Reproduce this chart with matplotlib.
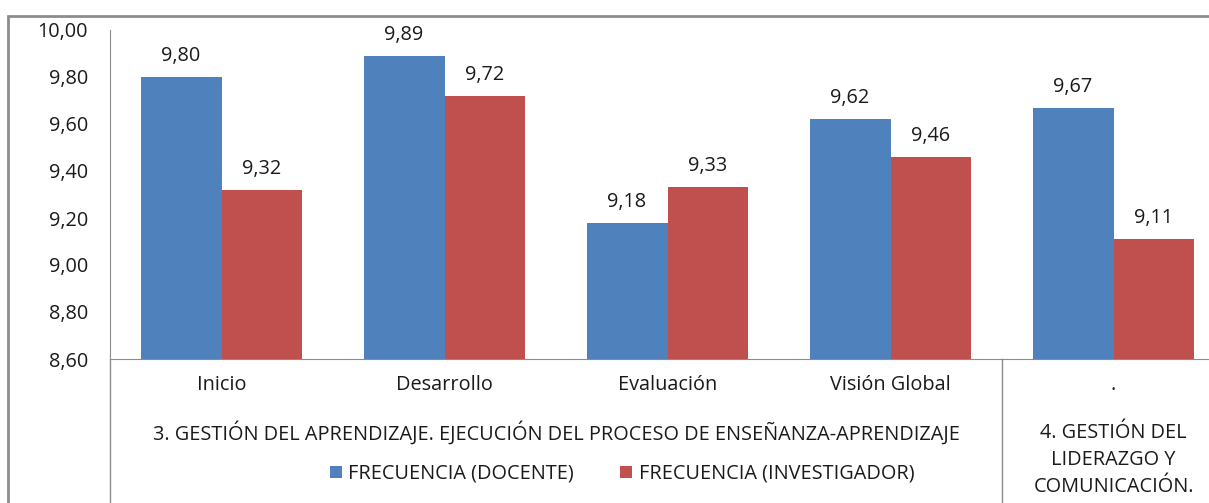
import numpy as np
import matplotlib.pyplot as plt
from matplotlib.patches import Rectangle
from matplotlib.lines import Line2D
import matplotlib.transforms as mtransforms

plt.rcParams['font.family'] = ['Open Sans', 'DejaVu Sans']

categories = ['Inicio', 'Desarrollo', 'Evaluación', 'Visión Global', '.']
docente = [9.80, 9.89, 9.18, 9.62, 9.67]
investigador = [9.32, 9.72, 9.33, 9.46, 9.11]
series_names = ['FRECUENCIA (DOCENTE)', 'FRECUENCIA (INVESTIGADOR)']
group_labels = ['3. GESTIÓN DEL APRENDIZAJE. EJECUCIÓN DEL PROCESO DE ENSEÑANZA-APRENDIZAJE',
                '4. GESTIÓN DEL\nLIDERAZGO Y\nCOMUNICACIÓN.']
y_ticks = [8.60, 8.80, 9.00, 9.20, 9.40, 9.60, 9.80, 10.00]

blue = '#4F81BD'
red = '#C0504D'
text_color = '#1a1a1a'
line_color = '#8c8c8c'
fs = 14.3

fig = plt.figure(figsize=(12.09, 5.03), dpi=100)
# plot area runs past the right edge of the picture, like the cropped original
ax = fig.add_axes([110 / 1209, 1 - 359 / 503, 1115 / 1209, 329 / 503])

x = np.arange(len(categories))
bw = 0.363
b1 = ax.bar(x - bw / 2, np.array(docente) - 8.6, bw, bottom=8.6, color=blue, label=series_names[0])
b2 = ax.bar(x + bw / 2, np.array(investigador) - 8.6, bw, bottom=8.6, color=red, label=series_names[1])

for bars, vals in [(b1, docente), (b2, investigador)]:
    for rect, v in zip(bars, vals):
        ax.annotate(f'{v:.2f}'.replace('.', ','), (rect.get_x() + rect.get_width() / 2, v),
                    xytext=(0, 11.5), textcoords='offset points', ha='center', va='baseline',
                    fontsize=fs, color=text_color)

ax.set_xlim(-0.5, len(categories) - 0.5)
ax.set_ylim(8.6, 10.0)
ax.set_yticks(y_ticks)
ax.set_yticklabels([f'{t:.2f}'.replace('.', ',') for t in y_ticks], fontsize=fs, color=text_color)
ax.tick_params(axis='y', length=0, pad=16)
ax.set_xticks([])
for s in ['top', 'right']:
    ax.spines[s].set_visible(False)
ax.spines['left'].set_color(line_color)
ax.spines['bottom'].set_color(line_color)

# multi-level category axis
trans = mtransforms.blended_transform_factory(ax.transData, ax.transAxes)
for i, c in enumerate(categories):
    ax.text(i, -0.079, c, transform=trans, ha='center', va='center', fontsize=fs, color=text_color)
ax.text(1.5, -0.225, group_labels[0], transform=trans, ha='center', va='center',
        fontsize=fs, color=text_color)
ax.text(4, -0.307, group_labels[1], transform=trans, ha='center', va='center',
        fontsize=fs, color=text_color, linespacing=1.45)

for xs in [-0.5, 3.5]:
    ax.add_line(Line2D([xs, xs], [0, -0.45], transform=trans, color=line_color,
                       lw=1, clip_on=False))

fig.legend(loc='center', bbox_to_anchor=(622 / 1209, 29 / 503), ncol=2, frameon=False,
           fontsize=fs, handlelength=0.6, handleheight=0.6, columnspacing=2.3,
           handletextpad=0.35, labelcolor=text_color)

# outer chart border
fig.add_artist(Rectangle((8 / 1209, -0.05), 1.1, 1.05 - 16 / 503, transform=fig.transFigure,
                         fill=False, edgecolor=line_color, lw=2))

fig.savefig('out.png', dpi=100)
